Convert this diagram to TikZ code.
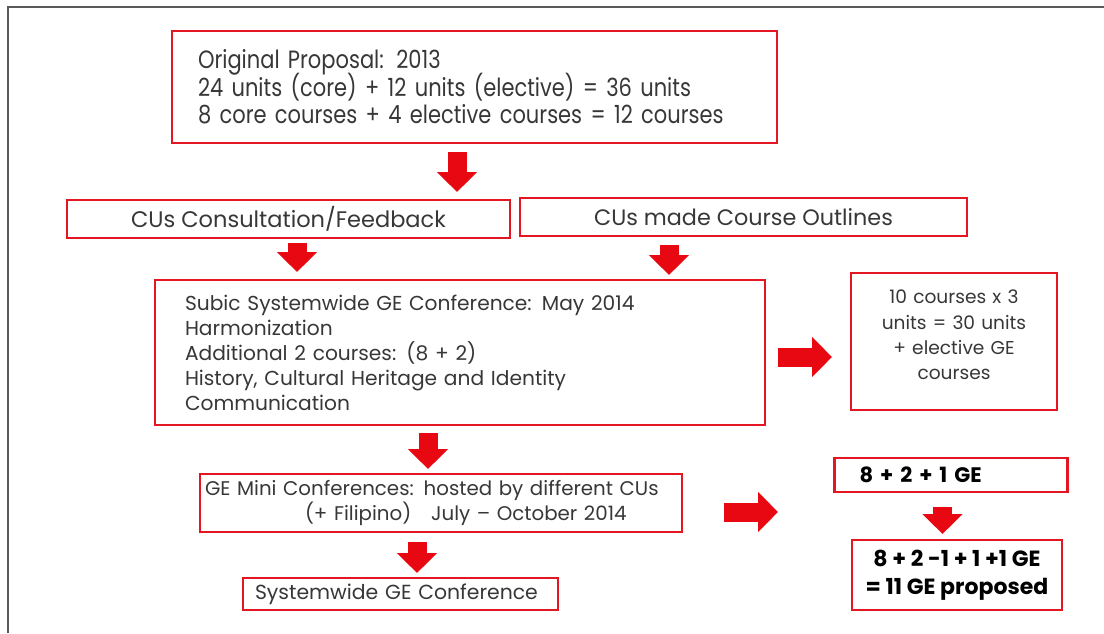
\documentclass[tikz,border=0pt]{standalone}
\usepackage{fontspec}
\setmainfont{Poppins}
\newfontfamily\narrowfont[FakeStretch=0.84]{Poppins}
\usetikzlibrary{arrows.meta}

\definecolor{boxred}{RGB}{228,22,34}
\definecolor{arrowred}{RGB}{232,8,18}
\definecolor{inkgrey}{RGB}{55,55,55}
\definecolor{framegrey}{RGB}{90,90,90}

\tikzset{
  stage/.style={draw=boxred, line width=2.4pt, text=inkgrey, inner ysep=0pt, minimum height=#1},
  flow/.style={arrowred, line width=19pt, -{Triangle[length=20pt,width=39pt]}},
}

\begin{document}
\begin{tikzpicture}[x=1pt,y=-1pt]
  \useasboundingbox (0,0) rectangle (1104,633);
  \draw [framegrey, line width=2pt] (8,633) -- (8,7) -- (1104,7);

  % top row
  \node [stage=112, text width=553, inner xsep=26, align=left,
         font=\narrowfont\fontsize{25}{27.5}\selectfont] (proposal) at (474.5,87)
        {\lineskiplimit=-20pt\relax Original Proposal: 2013\\
         24 units (core) + 12 units (elective) = 36 units\\
         8 core courses + 4 elective courses = 12 courses};
  \node [stage=38, minimum width=443, font=\fontsize{22.5}{24}\selectfont] (consult) at (288.5,219)
        {CUs Consultation/Feedback};
  \node [stage=38, minimum width=447, font=\fontsize{22.3}{24}\selectfont] (outlines) at (743.5,217)
        {CUs made Course Outlines};

  % conference
  \node [stage=145, text width=550, inner xsep=30, align=left,
         font=\fontsize{20.2}{25}\selectfont] (subic) at (460,352.5)
        {Subic Systemwide GE Conference: May 2014\\
         Harmonization\\
         Additional 2 courses: (8 + 2)\\
         History, Cultural Heritage and Identity\\
         Communication};
  \node [stage=137, text width=186, inner xsep=10, align=center,
         font=\fontsize{18.6}{25.3}\selectfont] (tencourses) at (954,341.5)
        {10 courses x 3\\ units = 30 units\\ + elective GE\\ courses\\[-12pt]\mbox{}};

  % mini conferences
  \node [stage=58, text width=472, inner xsep=5, align=left,
         font=\fontsize{19.8}{25}\selectfont] (mini) at (441,503)
        {GE Mini Conferences: hosted by different CUs\\
         \hspace*{100pt}(+ Filipino)\quad July -- October 2014};
  \node [stage=32, text width=291, inner xsep=12, align=left,
         font=\fontsize{20.4}{22}\selectfont] (sysconf) at (400.5,594)
        {Systemwide GE Conference};

  % GE count
  \node [stage=34, text width=183, inner xsep=25, align=left,
         font=\bfseries\fontsize{21}{24}\selectfont, text=black] (ge1) at (951,475)
        {8 + 2 + 1 GE};
  \node [stage=70, minimum width=210, align=center,
         font=\bfseries\fontsize{22}{28}\selectfont, text=black] (ge2) at (957,575)
        {8 + 2 -1 + 1 +1 GE\\ = 11 GE proposed};

  % block arrows
  \coordinate (a1t) at (457,152);   \coordinate (a1h) at (457,192);
  \coordinate (a2t) at (297,243);   \coordinate (a2h) at (297,272);
  \coordinate (a3t) at (669,245);   \coordinate (a3h) at (669,275);
  \coordinate (a4t) at (778,357);   \coordinate (a4h) at (832,357);
  \coordinate (a5t) at (428,433);   \coordinate (a5h) at (428,469);
  \coordinate (a6t) at (724,512);   \coordinate (a6h) at (778,512);
  \coordinate (a7t) at (417,542);   \coordinate (a7h) at (417,573);
  \coordinate (a8t) at (942.5,507); \coordinate (a8h) at (942.5,534);
  \foreach \a in {a1,a2,a3,a4,a5,a6,a7,a8}
    \draw [flow] (\a t) -- (\a h);
\end{tikzpicture}
\end{document}
